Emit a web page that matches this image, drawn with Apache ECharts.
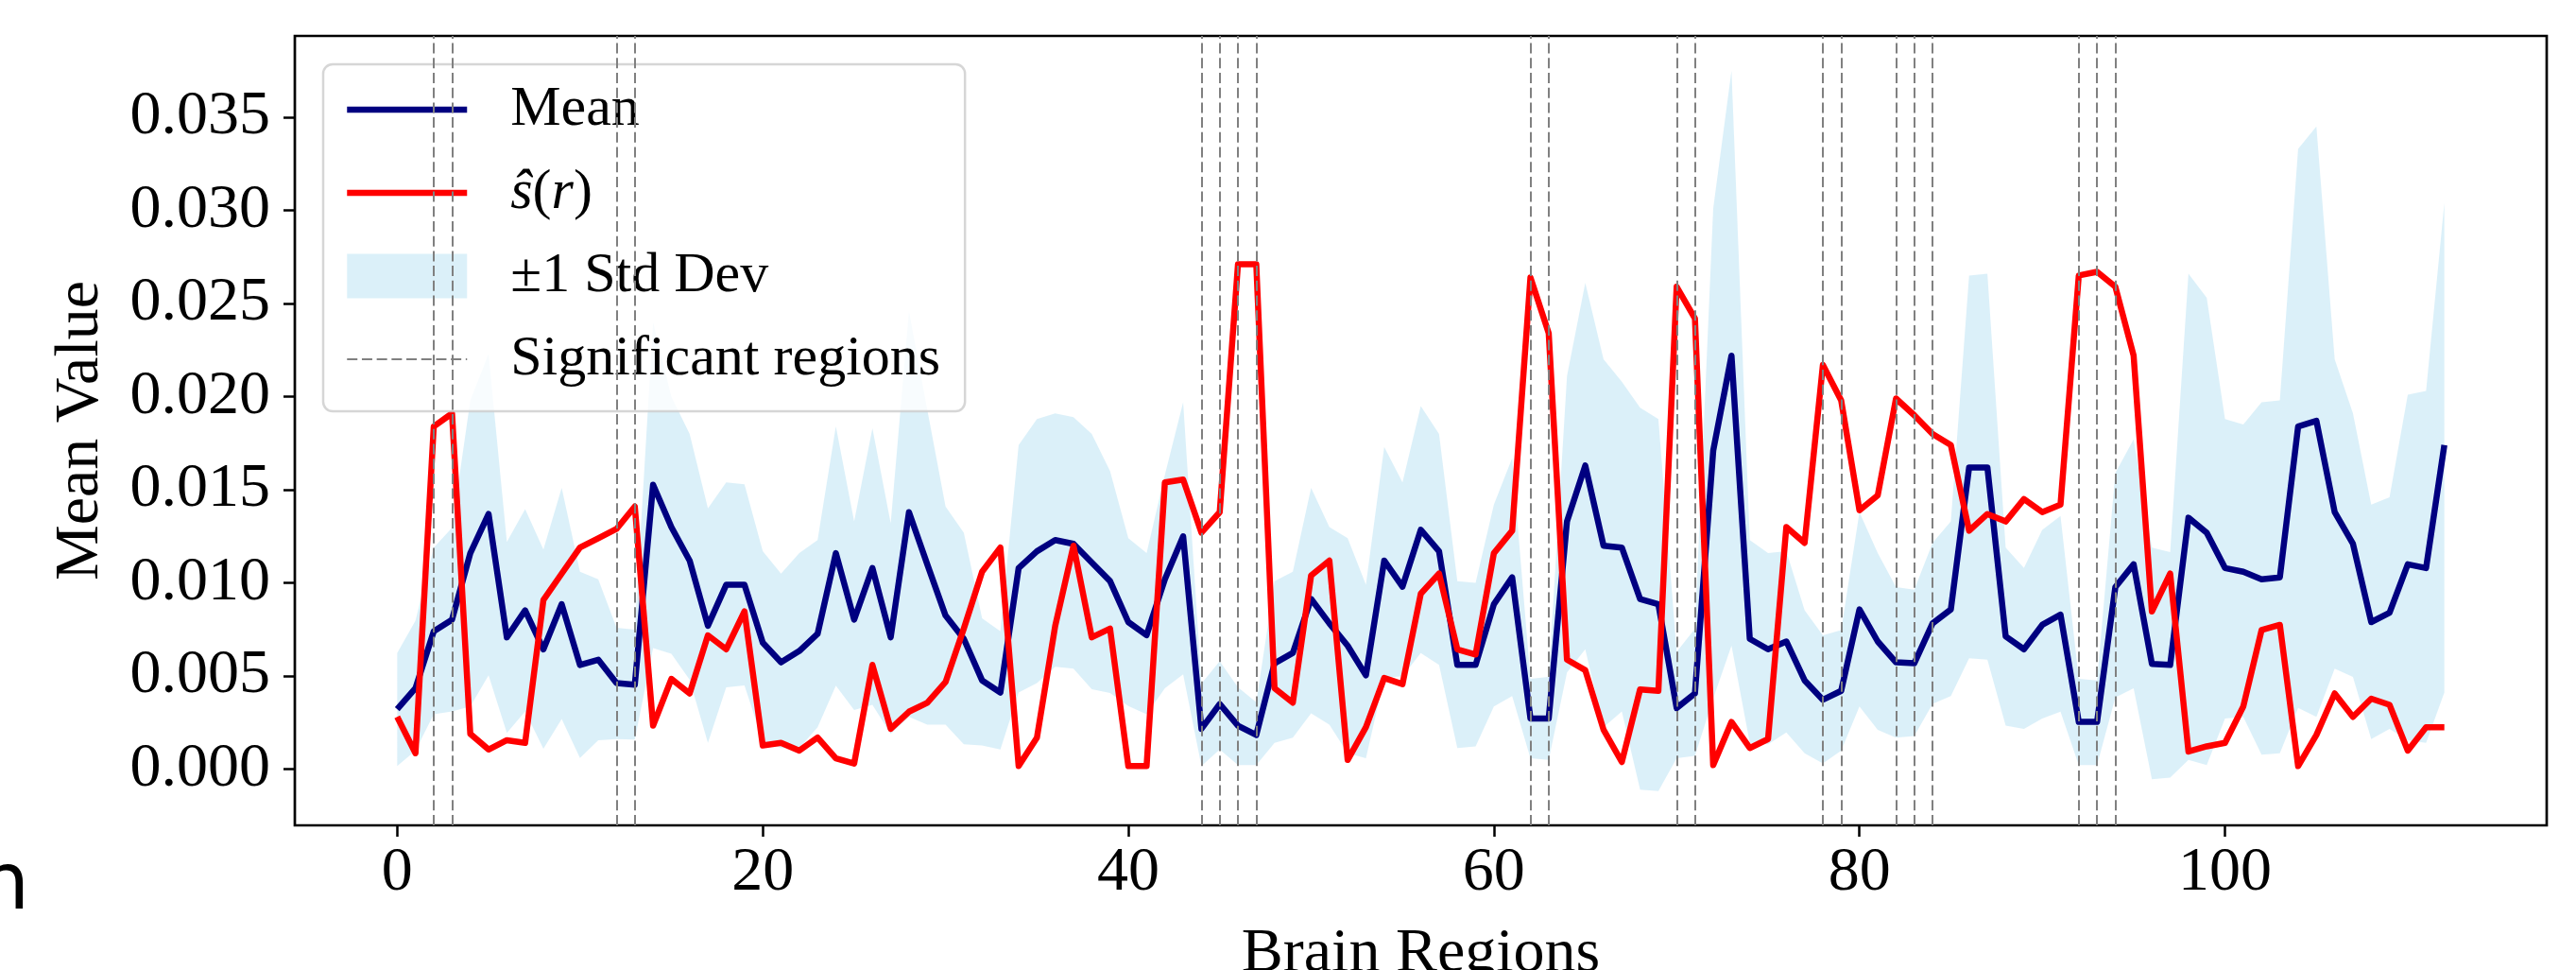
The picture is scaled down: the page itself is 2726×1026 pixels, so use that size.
<!DOCTYPE html>
<html><head><meta charset="utf-8">
<script src="https://cdn.jsdelivr.net/npm/echarts@6/dist/echarts.min.js"></script>
<style>html,body{margin:0;padding:0;background:#fff}#c{width:2726px;height:1026px}</style>
</head><body><div id="c"></div>
<script>
// Brain region indices 0..112
const regionCount = 113;
const xTicks = [0, 20, 40, 60, 80, 100];
const yTicks = [0, 0.005, 0.010, 0.015, 0.020, 0.025, 0.030, 0.035];
const significantRegions = [2,3,12,13,44,45,46,47,62,63,70,71,78,79,82,83,84,92,93,94];

const meanValues = [
0.00323,0.00435,0.00741,0.00803,0.01160,0.01370,0.00708,0.00853,0.00644,0.00886,
0.00560,0.00588,0.00463,0.00454,0.01527,0.01300,0.01120,0.00770,0.00990,0.00990,
0.00680,0.00574,0.00635,0.00727,0.01160,0.00803,0.01080,0.00708,0.01380,0.01100,
0.00825,0.00700,0.00477,0.00412,0.01080,0.01170,0.01230,0.01210,0.01110,0.01010,
0.00790,0.00720,0.01020,0.01250,0.00217,0.00350,0.00234,0.00184,0.00569,0.00624,
0.00914,0.00783,0.00663,0.00504,0.01120,0.00980,0.01285,0.01170,0.00560,0.00560,
0.00886,0.01030,0.00273,0.00273,0.01330,0.01630,0.01200,0.01190,0.00914,0.00886,
0.00329,0.00407,0.01710,0.02220,0.00700,0.00644,0.00686,0.00477,0.00373,0.00421,
0.00858,0.00686,0.00574,0.00569,0.00783,0.00858,0.01620,0.01620,0.00713,0.00644,
0.00775,0.00830,0.00254,0.00254,0.00978,0.01100,0.00566,0.00560,0.01350,0.01270,
0.01080,0.01060,0.01020,0.01030,0.01840,0.01870,0.01380,0.01210,0.00790,0.00840,
0.01100,0.01080,0.01740];

const sHatValues = [
0.00281,0.00086,0.01840,0.01910,0.00190,0.00106,0.00156,0.00142,0.00909,0.01050,
0.01190,0.01240,0.01290,0.01410,0.00234,0.00485,0.00407,0.00719,0.00644,0.00847,
0.00128,0.00142,0.00100,0.00170,0.00059,0.00031,0.00560,0.00217,0.00309,0.00357,
0.00468,0.00755,0.01060,0.01190,0.00017,0.00170,0.00770,0.01200,0.00708,0.00755,
0.00017,0.00017,0.01540,0.01555,0.01270,0.01380,0.02710,0.02710,0.00435,0.00357,
0.01040,0.01120,0.00050,0.00226,0.00490,0.00457,0.00942,0.01050,0.00644,0.00616,
0.01160,0.01280,0.02640,0.02340,0.00588,0.00532,0.00212,0.00039,0.00429,0.00421,
0.02590,0.02420,0.00022,0.00254,0.00114,0.00162,0.01300,0.01215,0.02170,0.01980,
0.01390,0.01470,0.01990,0.01900,0.01800,0.01740,0.01280,0.01370,0.01330,0.01450,
0.01380,0.01420,0.02650,0.02670,0.02590,0.02220,0.00847,0.01050,0.00095,0.00123,
0.00142,0.00337,0.00747,0.00775,0.00017,0.00184,0.00407,0.00281,0.00379,0.00346,
0.00100,0.00226,0.00226];

const stdUpper = [
0.00624,0.00797,0.01190,0.01296,0.01980,0.02230,0.01220,0.01396,0.01180,0.01510,
0.01060,0.01020,0.00760,0.00750,0.02400,0.02000,0.01800,0.01400,0.01540,0.01530,
0.01170,0.01050,0.01160,0.01230,0.01840,0.01330,0.01830,0.01320,0.02460,0.01930,
0.01410,0.01270,0.00810,0.00740,0.01740,0.01880,0.01910,0.01890,0.01800,0.01600,
0.01240,0.01160,0.01580,0.01970,0.00460,0.00580,0.00440,0.00360,0.01010,0.01060,
0.01510,0.01300,0.01240,0.00990,0.01730,0.01540,0.01950,0.01800,0.01010,0.01000,
0.01420,0.01670,0.00485,0.00496,0.02110,0.02610,0.02200,0.02080,0.01940,0.01880,
0.00630,0.00755,0.03010,0.03750,0.01230,0.01160,0.01170,0.00853,0.00719,0.00747,
0.01380,0.01160,0.00978,0.00964,0.01215,0.01330,0.02650,0.02660,0.01190,0.01080,
0.01285,0.01360,0.00485,0.00477,0.01590,0.01770,0.01190,0.01165,0.02660,0.02530,
0.01880,0.01850,0.01970,0.01980,0.03330,0.03450,0.02200,0.01910,0.01420,0.01460,
0.02010,0.02030,0.03040];

const stdLower = [
0.00017,0.00100,0.00295,0.00310,0.00337,0.00504,0.00195,0.00310,0.00110,0.00270,
0.00060,0.00156,0.00162,0.00160,0.00650,0.00620,0.00480,0.00142,0.00440,0.00450,
0.00150,0.00114,0.00114,0.00226,0.00449,0.00318,0.00346,0.00190,0.00281,0.00240,
0.00240,0.00134,0.00128,0.00106,0.00412,0.00463,0.00550,0.00540,0.00430,0.00410,
0.00340,0.00295,0.00435,0.00510,0.00017,0.00106,0.00022,0.00022,0.00142,0.00170,
0.00300,0.00240,0.00086,0.00059,0.00490,0.00500,0.00624,0.00560,0.00114,0.00123,
0.00337,0.00393,0.00059,0.00050,0.00520,0.00644,0.00226,0.00310,-0.00109,-0.00117,
0.00059,0.00072,0.00380,0.00663,0.00142,0.00134,0.00198,0.00086,0.00031,0.00100,
0.00337,0.00212,0.00170,0.00178,0.00351,0.00393,0.00596,0.00588,0.00234,0.00217,
0.00273,0.00309,0.00022,0.00022,0.00385,0.00435,-0.00053,-0.00045,0.00050,0.00022,
0.00273,0.00281,0.00078,0.00086,0.00329,0.00281,0.00540,0.00496,0.00162,0.00217,
0.00156,0.00142,0.00412];

const regions = Array.from({length: regionCount}, (_, i) => i);
const pairs = arr => regions.map(i => [i, arr[i]]);

const serif = '"Liberation Serif", "Times New Roman", serif';
const navy = '#000080', red = '#ff0000', gray = '#808080';
const bandFill = 'rgba(135,206,235,0.3)';
const dash = [11, 4.7];
const lineW = 6.5;

const chart = echarts.init(document.getElementById('c'), null, {renderer: 'canvas'});
chart.setOption({
  animation: false,
  backgroundColor: '#fff',
  grid: {left: 312, right: 31, top: 38, bottom: 153, containLabel: false, outerBoundsMode: 'none',
         show: true, borderColor: '#000', borderWidth: 2.7, backgroundColor: 'transparent'},
  xAxis: {
    type: 'value', min: -5.6, max: 117.6,
    name: 'Brain Regions', nameLocation: 'middle', nameGap: 104,
    nameTextStyle: {fontFamily: serif, fontSize: 66, color: '#000'},
    axisLine: {show: false, onZero: false},
    splitLine: {show: false},
    axisTick: {show: true, length: 12, lineStyle: {color: '#000', width: 2.5}, customValues: xTicks},
    axisLabel: {fontFamily: serif, fontSize: 66, color: '#000', margin: 18, customValues: xTicks}
  },
  yAxis: {
    type: 'value', min: -0.00301, max: 0.03936,
    name: 'Mean Value', nameLocation: 'middle', nameGap: 193,
    nameTextStyle: {fontFamily: serif, fontSize: 66, color: '#000'},
    axisLine: {show: false, onZero: false},
    splitLine: {show: false},
    axisTick: {show: true, length: 12, lineStyle: {color: '#000', width: 2.5}, customValues: yTicks},
    axisLabel: {fontFamily: serif, fontSize: 66, color: '#000', margin: 26, customValues: yTicks,
      formatter: v => v.toFixed(3)}
  },
  legend: {
    left: 342, top: 68, orient: 'vertical',
    padding: [18, 26, 25, 22],
    itemWidth: 127, itemHeight: 47, itemGap: 28,
    symbolKeepAspect: false,
    backgroundColor: 'rgba(255,255,255,0.8)',
    borderColor: 'rgba(204,204,204,0.8)', borderWidth: 2.5, borderRadius: 10,
    textStyle: {fontFamily: serif, fontSize: 60, lineHeight: 60, color: '#000', padding: [0, 0, 0, 41],
      rich: {it: {fontFamily: serif, fontSize: 60, lineHeight: 60, fontStyle: 'italic', color: '#000'}}},
    formatter: name => name === 'sHat' ? '{it|ŝ}(' + '{it|r})' : name,
    data: [
      {name: 'Mean', lineStyle: {width: lineW, color: navy}, itemStyle: {opacity: 0}},
      {name: 'sHat', lineStyle: {width: lineW, color: red}, itemStyle: {opacity: 0}},
      {name: '±1 Std Dev', icon: 'rect', itemStyle: {color: bandFill}},
      {name: 'Significant regions', lineStyle: {width: 2, color: gray, type: dash}, itemStyle: {opacity: 0}}
    ]
  },
  series: [
    {name: '±1 Std Dev', type: 'custom', silent: true, z: 1,
     data: regions.map(i => [i, stdLower[i], stdUpper[i]]),
     encode: {x: 0, y: [1, 2]},
     itemStyle: {color: bandFill},
     renderItem: (params, api) => {
       if (params.dataIndex !== 0) return null;
       const pts = [];
       for (let k = 0; k < regionCount; k++) pts.push(api.coord([regions[k], stdUpper[k]]));
       for (let k = regionCount - 1; k >= 0; k--) pts.push(api.coord([regions[k], stdLower[k]]));
       return {type: 'polygon', shape: {points: pts}, style: {fill: bandFill}};
     }},
    {name: 'Significant regions', type: 'line', data: [], symbol: 'none',
     lineStyle: {color: gray, width: 2, type: dash}, z: 2,
     markLine: {silent: true, symbol: ['none', 'none'], label: {show: false},
       lineStyle: {color: gray, width: 2, type: dash, opacity: 1},
       emphasis: {disabled: true},
       data: significantRegions.map(r => ({xAxis: r}))}},
    {name: 'Mean', type: 'line', data: pairs(meanValues), symbol: 'none',
     lineStyle: {color: navy, width: lineW, join: 'round'}, itemStyle: {color: navy}, z: 3},
    {name: 'sHat', type: 'line', data: pairs(sHatValues), symbol: 'none',
     lineStyle: {color: red, width: lineW, join: 'round'}, itemStyle: {color: red}, z: 3}
  ],
  graphic: [
    {type: 'text', x: -22, y: 939, style: {text: 'n', font: '84px "DejaVu Sans"', fill: '#000', verticalAlign: 'middle'}}
  ]
});
</script></body></html>
